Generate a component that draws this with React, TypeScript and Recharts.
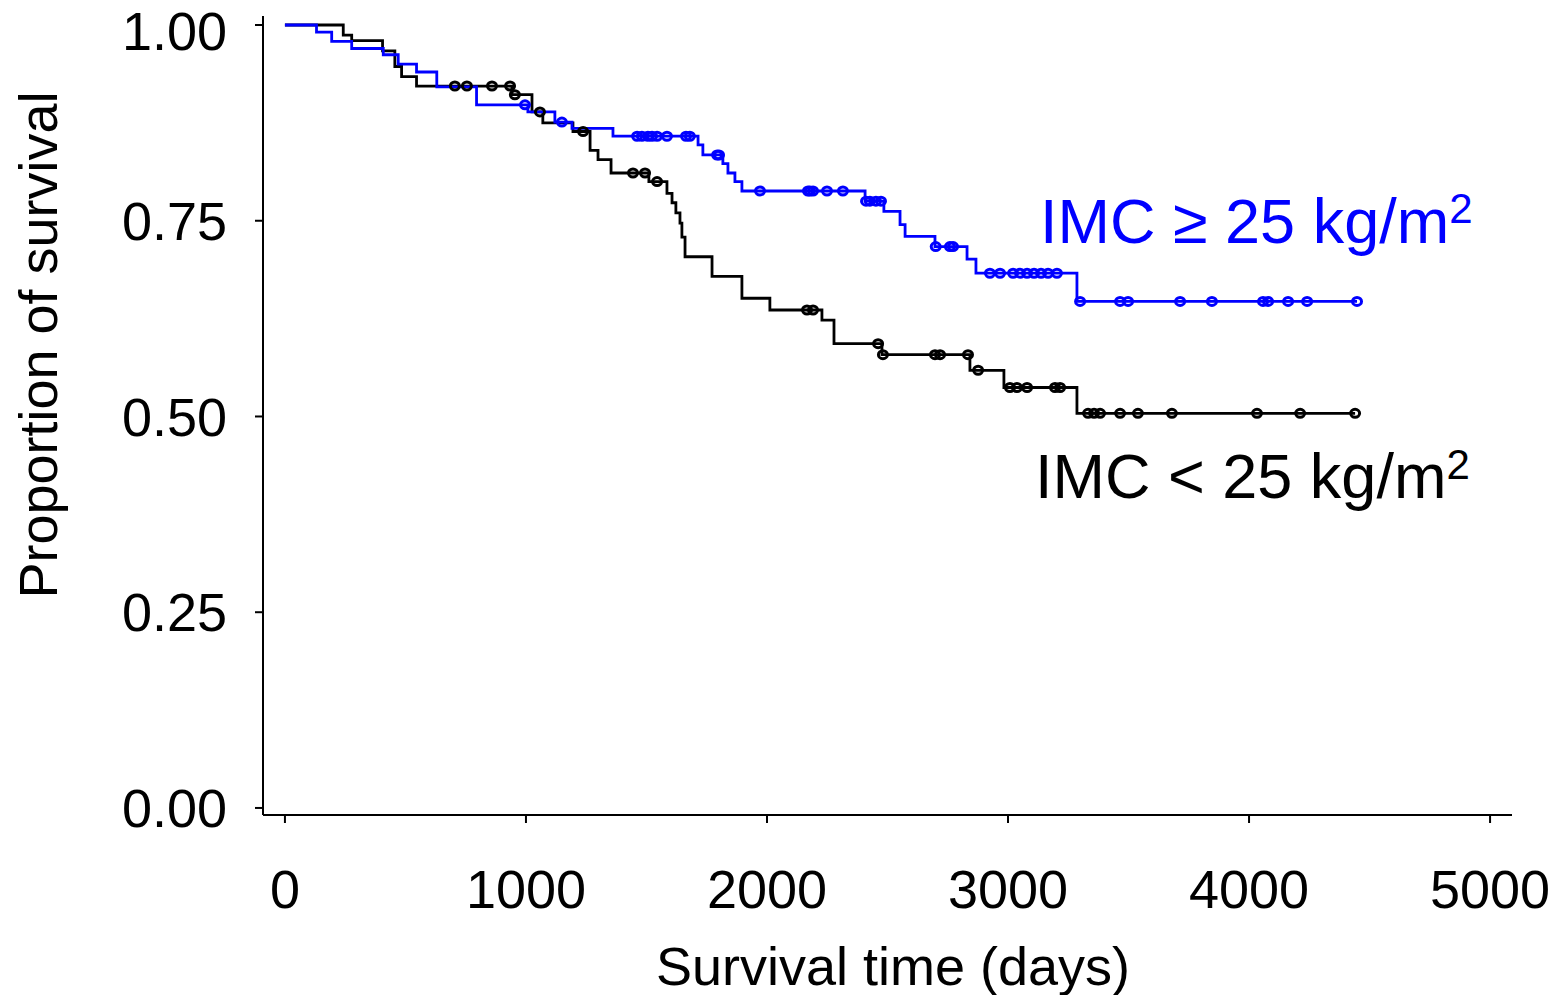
import React from "react";
import { ComposedChart, Line, Scatter, XAxis, YAxis } from "recharts";

// Kaplan-Meier steps (time in days, survival proportion)
const lowTimes = [0, 242, 277, 405, 456, 484, 546, 942, 1025, 1070, 1195, 1266, 1299, 1353, 1510, 1585, 1606, 1622, 1639, 1647, 1660, 1772, 1896, 2012, 2228, 2278, 2477, 2842, 2983, 3286, 4440];
const lowSurv = [1, 0.987, 0.98, 0.967, 0.947, 0.934, 0.922, 0.911, 0.889, 0.875, 0.864, 0.84, 0.828, 0.811, 0.8, 0.785, 0.773, 0.76, 0.747, 0.729, 0.704, 0.679, 0.651, 0.636, 0.623, 0.593, 0.579, 0.559, 0.537, 0.504, 0.504];
const lowCensored = [705, 755, 859, 934, 954, 1058, 1237, 1444, 1494, 1544, 2166, 2191, 2461, 2481, 2697, 2718, 2834, 2876, 3008, 3037, 3079, 3195, 3216, 3332, 3357, 3382, 3465, 3539, 3680, 4033, 4212, 4440];

const highTimes = [0, 131, 194, 277, 408, 470, 546, 630, 795, 1008, 1120, 1191, 1361, 1714, 1734, 1817, 1838, 1867, 1896, 2407, 2485, 2552, 2573, 2697, 2830, 2867, 3286, 4448];
const highSurv = [1, 0.991, 0.979, 0.97, 0.962, 0.95, 0.94, 0.921, 0.898, 0.889, 0.876, 0.868, 0.858, 0.847, 0.834, 0.823, 0.811, 0.8, 0.788, 0.775, 0.762, 0.745, 0.73, 0.717, 0.701, 0.683, 0.647, 0.647];
const highCensored = [996, 1149, 1461, 1481, 1506, 1523, 1544, 1585, 1664, 1680, 1793, 1801, 1971, 2170, 2178, 2191, 2249, 2315, 2411, 2427, 2452, 2473, 2700, 2759, 2772, 2925, 2967, 3021, 3050, 3079, 3108, 3137, 3166, 3203, 3299, 3465, 3498, 3714, 3846, 4058, 4079, 4162, 4241, 4448];

const xTicks = [0, 1000, 2000, 3000, 4000, 5000];
const yTicks = [0, 0.25, 0.5, 0.75, 1];

const FONT = '"Liberation Sans", Arial, sans-serif';
const BLUE = "#0000ff";

const toCurve = (times: number[], surv: number[]) => times.map((t, i) => ({ t, s: surv[i] }));

// survival at a censor time = last step at or before it
const censorPoints = (censored: number[], times: number[], surv: number[]) =>
  censored.map((t) => {
    let s = surv[0];
    for (let i = 0; i < times.length; i++) if (times[i] <= t) s = surv[i];
    return { t, s };
  });

const lowCurve = toCurve(lowTimes, lowSurv);
const highCurve = toCurve(highTimes, highSurv);
const lowMarks = censorPoints(lowCensored, lowTimes, lowSurv);
const highMarks = censorPoints(highCensored, highTimes, highSurv);

// eslint-disable-next-line @typescript-eslint/no-explicit-any
const censorMark = (color: string) => (props: any) => (
  <ellipse cx={props.cx} cy={props.cy} rx={4.5} ry={4} fill="none" stroke={color} strokeWidth={3} />
);

const tickStyle = { fontSize: 54, fill: "#000", fontFamily: FONT };

export default function App() {
  return (
    <div style={{ position: "absolute", left: 0, top: 0, background: "#fff" }}>
      <ComposedChart width={1558} height={995} margin={{ top: 16, right: 46, bottom: 80, left: 0 }}>
        <XAxis
          dataKey="t"
          type="number"
          domain={[-91, 5091]}
          ticks={xTicks}
          allowDataOverflow
          height={100}
          stroke="#000"
          strokeWidth={2}
          tickSize={8}
          tickMargin={47}
          tick={tickStyle}
          tickLine={{ stroke: "#000", strokeWidth: 2 }}
        />
        <YAxis
          dataKey="s"
          type="number"
          domain={[-0.009, 1.0115]}
          ticks={yTicks}
          allowDataOverflow
          width={263}
          stroke="#000"
          strokeWidth={2}
          tickSize={8}
          tickMargin={28}
          tick={tickStyle}
          tickLine={{ stroke: "#000", strokeWidth: 2 }}
          tickFormatter={(v: number) => v.toFixed(2)}
        />
        <Line data={lowCurve} dataKey="s" type="stepAfter" stroke="#000" strokeWidth={2.8} dot={false} isAnimationActive={false} />
        <Line data={highCurve} dataKey="s" type="stepAfter" stroke={BLUE} strokeWidth={2.8} dot={false} isAnimationActive={false} />
        <Scatter data={lowMarks} dataKey="s" shape={censorMark("#000")} isAnimationActive={false} />
        <Scatter data={highMarks} dataKey="s" shape={censorMark(BLUE)} isAnimationActive={false} />

        <text x={893} y={985} textAnchor="middle" fontSize={54} fontFamily={FONT} fill="#000">
          Survival time (days)
        </text>
        <text x={57} y={345} textAnchor="middle" fontSize={54} fontFamily={FONT} fill="#000" transform="rotate(-90, 57, 345)">
          Proportion of survival
        </text>
        <text x={1040} y={243} fontSize={63} fontFamily={FONT} fill={BLUE}>
          IMC ≥ 25 kg/m<tspan fontSize={42} dy={-20}>2</tspan>
        </text>
        <text x={1035} y={498} fontSize={63} fontFamily={FONT} fill="#000">
          IMC &lt; 25 kg/m<tspan fontSize={42} dy={-19}>2</tspan>
        </text>
      </ComposedChart>
    </div>
  );
}
